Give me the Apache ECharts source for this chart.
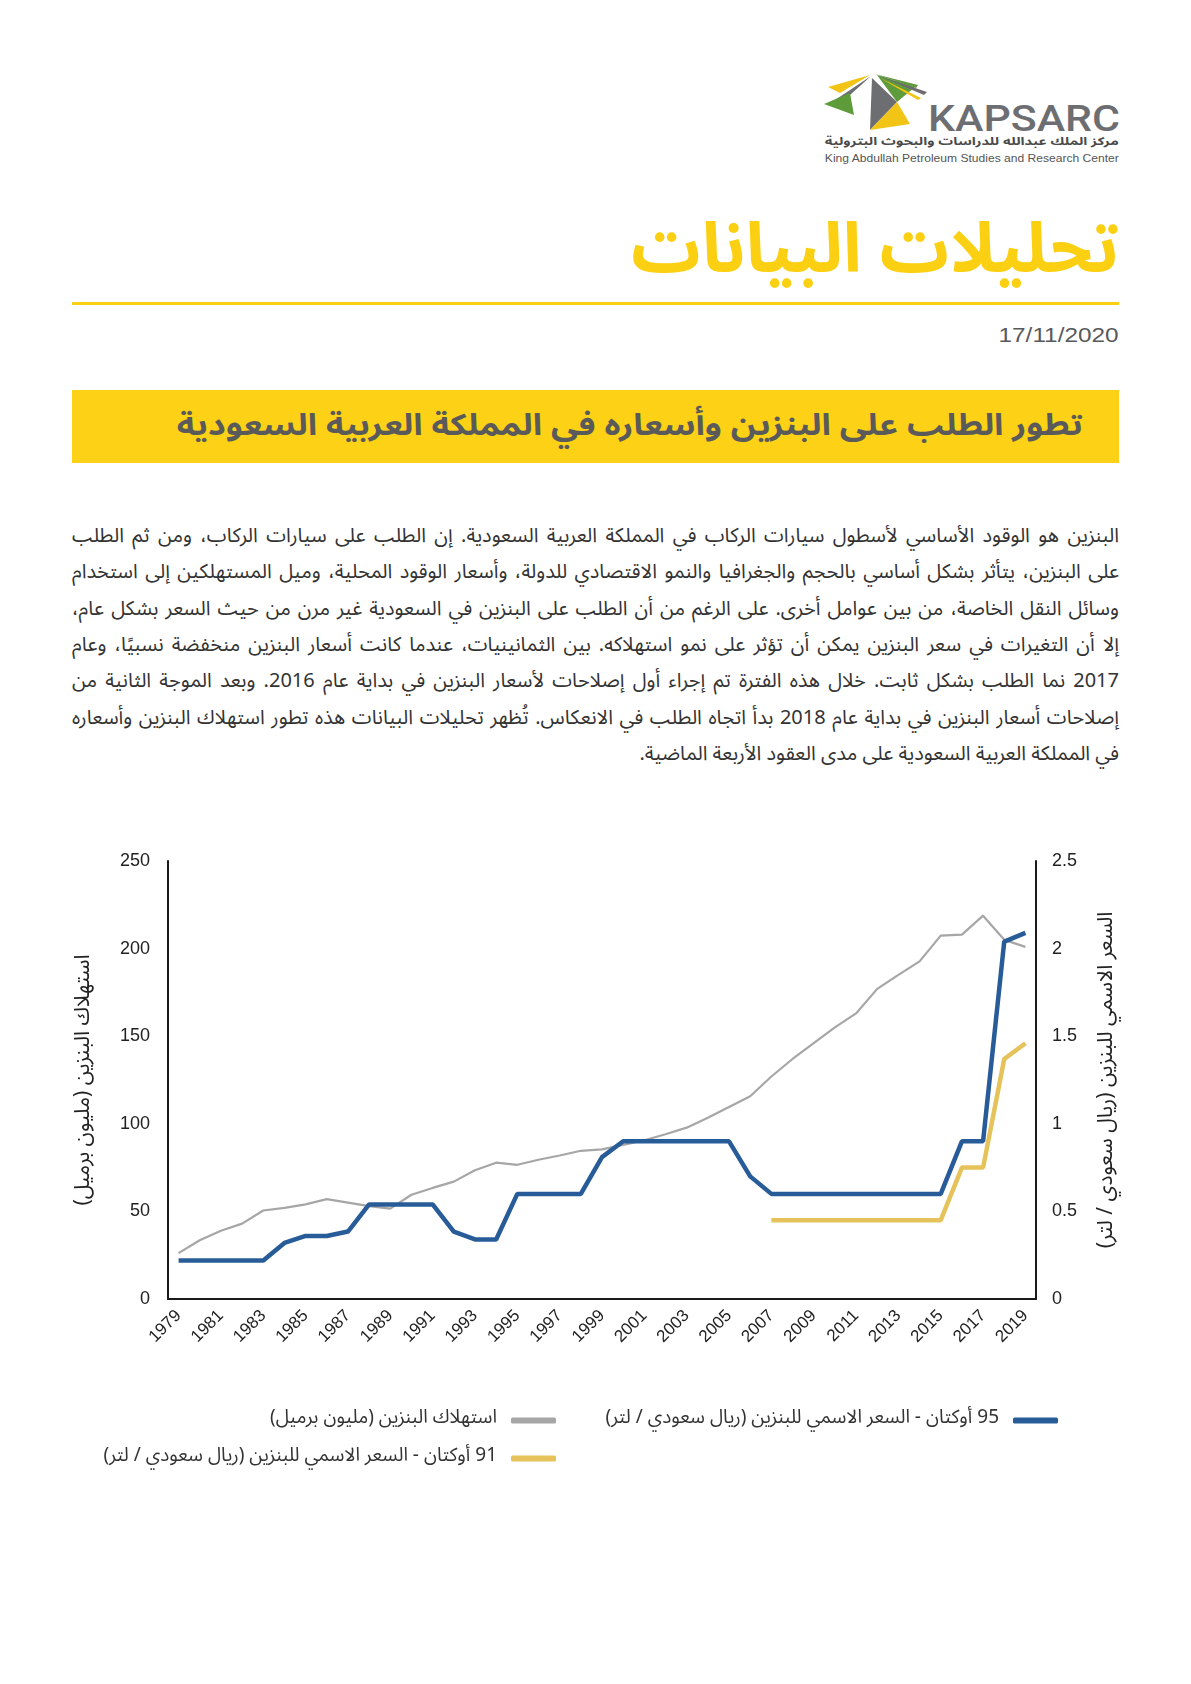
<!DOCTYPE html>
<html lang="ar" dir="rtl">
<head>
<meta charset="utf-8">
<script src="https://cdn.jsdelivr.net/npm/echarts@6/dist/echarts.min.js"></script>
<style>
html,body{margin:0;padding:0;background:#ffffff;}
body{width:1191px;height:1684px;position:relative;overflow:hidden;font-family:"Noto Sans Arabic","Noto Naskh Arabic","DejaVu Sans",sans-serif;color:#333;}
.abs{position:absolute;}
.nw{white-space:nowrap;display:inline-block;}
#title{right:72px;top:205px;font-size:74px;line-height:90px;font-weight:bold;color:#FCD012;}
#rule{left:72px;top:302px;width:1047px;height:3px;background:#FCD012;}
#date{right:72px;top:322px;font-family:"Liberation Sans",Arial,sans-serif;font-size:21px;line-height:26px;color:#58595b;direction:ltr;transform-origin:right center;}
#banner{left:72px;top:390px;width:1047px;height:73px;background:#FCD116;}
#bannerText{right:108px;top:406px;font-size:30px;line-height:40px;font-weight:bold;color:#5a5a5a;transform-origin:right center;}
.pl{position:absolute;right:72px;width:1047px;line-height:30px;color:#333;text-align:justify;text-align-last:justify;}
#logoKap{left:928px;top:100px;font-family:Roboto,"Liberation Sans",sans-serif;font-weight:500;font-size:36px;line-height:38px;color:#6D6E71;direction:ltr;transform-origin:left center;}
#logoAr{right:72px;top:135px;font-size:11px;line-height:14px;font-weight:bold;color:#4a4a4a;transform-origin:right center;}
#logoEn{right:72px;top:151px;font-family:"Liberation Sans",Arial,sans-serif;font-size:11px;line-height:14px;color:#555;direction:ltr;transform-origin:right center;}
#chart{position:absolute;left:0;top:760px;width:1191px;height:760px;}
</style>
</head>
<body>
<svg class="abs" style="left:820px;top:64px" width="110" height="72" viewBox="0 0 110 72">
  <polygon points="8,23 50,11 20,29" fill="#F2C416"/>
  <polygon points="12,38 51,12 30,31" fill="#6D6E71"/>
  <polygon points="4,40 34,51 30,29" fill="#5E9B3A"/>
  <polygon points="52,14 50,66 77,38" fill="#6D6E71"/>
  <polygon points="50,66 77,38 90,60" fill="#F2C416"/>
  <polygon points="57,11 77,38 95,23" fill="#5E9B3A"/>
  <polygon points="55,10 98,21 96,24" fill="#5E9B3A"/>
  <polygon points="57,11 107,28 104,31" fill="#6D6E71"/>
  <polygon points="60,14 101,34 98,36" fill="#F2C416"/>
</svg>
<div id="logoKap" class="abs nw">KAPSARC</div>
<div id="logoAr" class="abs nw">مركز الملك عبدالله للدراسات والبحوث البترولية</div>
<div id="logoEn" class="abs nw">King Abdullah Petroleum Studies and Research Center</div>

<div id="title" class="abs nw">تحليلات البيانات</div>
<div id="rule" class="abs"></div>
<div id="date" class="abs nw">17/11/2020</div>
<div id="banner" class="abs"></div>
<div id="bannerText" class="abs nw">تطور الطلب على البنزين وأسعاره في المملكة العربية السعودية</div>

<div id="para"></div>
<div id="chart"></div>

<script>
// ---------- chart data ----------
const years = ["1979","1980","1981","1982","1983","1984","1985","1986","1987","1988","1989","1990","1991","1992","1993","1994","1995","1996","1997","1998","1999","2000","2001","2002","2003","2004","2005","2006","2007","2008","2009","2010","2011","2012","2013","2014","2015","2016","2017","2018","2019"];
const consumption = [26.2,33.5,39,43,50.5,52,54,57,55,53,51.6,59.5,63.4,67,73.5,77.8,76.6,79.5,81.9,84.6,85.4,88,90.6,94,97.8,103.5,109.6,115.7,127,137,146,155,163,177,185,192.7,207.4,208,218.8,205,201];
const price95 = [0.22,0.22,0.22,0.22,0.22,0.32,0.36,0.36,0.385,0.54,0.54,0.54,0.54,0.385,0.34,0.34,0.6,0.6,0.6,0.6,0.81,0.9,0.9,0.9,0.9,0.9,0.9,0.7,0.6,0.6,0.6,0.6,0.6,0.6,0.6,0.6,0.6,0.9,0.9,2.04,2.09];
const price91 = [null,null,null,null,null,null,null,null,null,null,null,null,null,null,null,null,null,null,null,null,null,null,null,null,null,null,null,null,0.45,0.45,0.45,0.45,0.45,0.45,0.45,0.45,0.45,0.75,0.75,1.37,1.46];
const leftAxisRange = [0, 250, 50];
const rightAxisRange = [0, 2.5, 0.5];
const nameConsumption = "استهلاك البنزين (مليون برميل)";
const name95 = "95 أوكتان - السعر الاسمي للبنزين (ريال سعودي / لتر)";
const name91 = "91 أوكتان - السعر الاسمي للبنزين (ريال سعودي / لتر)";
const nameRightAxis = "السعر الاسمي للبنزين (ريال سعودي / لتر)";

// ---------- page text ----------
const paraLines = [
 "البنزين هو الوقود الأساسي لأسطول سيارات الركاب في المملكة العربية السعودية. إن الطلب على سيارات الركاب، ومن ثم الطلب",
 "على البنزين، يتأثر بشكل أساسي بالحجم والجغرافيا والنمو الاقتصادي للدولة، وأسعار الوقود المحلية، وميل المستهلكين إلى استخدام",
 "وسائل النقل الخاصة، من بين عوامل أخرى. على الرغم من أن الطلب على البنزين في السعودية غير مرن من حيث السعر بشكل عام،",
 "إلا أن التغيرات في سعر البنزين يمكن أن تؤثر على نمو استهلاكه. بين الثمانينيات، عندما كانت أسعار البنزين منخفضة نسبيًا، وعام",
 "2017 نما الطلب بشكل ثابت. خلال هذه الفترة تم إجراء أول إصلاحات لأسعار البنزين في بداية عام 2016. وبعد الموجة الثانية من",
 "إصلاحات أسعار البنزين في بداية عام 2018 بدأ اتجاه الطلب في الانعكاس. تُظهر تحليلات البيانات هذه تطور استهلاك البنزين وأسعاره",
 "في المملكة العربية السعودية على مدى العقود الأربعة الماضية."
];
const paraTop = 521, paraStep = 36.3;

function scaleTo(el, target){
  const w = el.getBoundingClientRect().width;
  el.style.transform = 'scaleX(' + (target / w).toFixed(4) + ')';
}
function fontTo(el, target){
  const w = el.getBoundingClientRect().width;
  const fs = parseFloat(getComputedStyle(el).fontSize);
  el.style.fontSize = (fs * target / w).toFixed(2) + 'px';
}
fontTo(document.getElementById('title'), 488);
scaleTo(document.getElementById('bannerText'), 906);
scaleTo(document.getElementById('logoKap'), 192);
scaleTo(document.getElementById('logoAr'), 294);
scaleTo(document.getElementById('logoEn'), 294);
scaleTo(document.getElementById('date'), 120);

// paragraph: a common font size so the widest line fits the 1047px column
(function(){
  const para = document.getElementById('para');
  const probe = document.createElement('span');
  probe.className = 'abs nw';
  probe.style.fontSize = '20px';
  document.body.appendChild(probe);
  let maxW = 0;
  for (let i = 0; i < 6; i++) { probe.textContent = paraLines[i]; maxW = Math.max(maxW, probe.getBoundingClientRect().width); }
  document.body.removeChild(probe);
  const fs = Math.min(20, 20 * 1040 / maxW);
  paraLines.forEach((t, i) => {
    const d = document.createElement('div');
    d.className = 'pl';
    d.style.top = (paraTop + i * paraStep).toFixed(1) + 'px';
    d.style.fontSize = fs.toFixed(2) + 'px';
    d.textContent = t;
    if (i === 6) { d.style.textAlign = 'right'; d.style.textAlignLast = 'right'; }
    para.appendChild(d);
  });
})();

// ---------- chart ----------
const arFont = '"Noto Sans Arabic","Noto Naskh Arabic","DejaVu Sans",sans-serif';
const numFont = '"Liberation Sans",Arial,sans-serif';
const chart = echarts.init(document.getElementById('chart'), null, {renderer: 'canvas'});
const legendBase = {
  orient: 'horizontal', align: 'right', itemWidth: 45, itemHeight: 6, icon: 'roundRect',
  selectedMode: false,
  textStyle: {fontFamily: arFont, fontSize: 19, color: '#333', padding: [0, 9, 0, 0]}
};
chart.setOption({
  animation: false,
  backgroundColor: 'transparent',
  grid: {left: 168, right: 155, top: 101, height: 438, containLabel: false},
  legend: [
    Object.assign({}, legendBase, {data: [name95], right: 128, top: 646}),
    Object.assign({}, legendBase, {data: [nameConsumption], right: 630, top: 646}),
    Object.assign({}, legendBase, {data: [name91], right: 630, top: 684})
  ],
  xAxis: {
    type: 'category', data: years, boundaryGap: true,
    axisLine: {show: true, lineStyle: {color: '#1a1a1a', width: 2}},
    axisTick: {show: false},
    axisLabel: {interval: 1, rotate: 45, fontFamily: numFont, fontSize: 17, color: '#222', margin: 14},
    splitLine: {show: false}
  },
  yAxis: [
    {
      type: 'value', min: leftAxisRange[0], max: leftAxisRange[1], interval: leftAxisRange[2], position: 'left',
      name: nameConsumption, nameLocation: 'middle', nameRotate: 90, nameGap: 72,
      nameTextStyle: {fontFamily: arFont, fontSize: 21, color: '#222'},
      axisLine: {show: true, lineStyle: {color: '#1a1a1a', width: 2}},
      axisTick: {show: false}, splitLine: {show: false},
      axisLabel: {fontFamily: numFont, fontSize: 18, color: '#222', margin: 18}
    },
    {
      type: 'value', min: rightAxisRange[0], max: rightAxisRange[1], interval: rightAxisRange[2], position: 'right',
      name: nameRightAxis, nameLocation: 'middle', nameRotate: 90, nameGap: 62,
      nameTextStyle: {fontFamily: arFont, fontSize: 21, color: '#222'},
      axisLine: {show: true, lineStyle: {color: '#1a1a1a', width: 2}},
      axisTick: {show: false}, splitLine: {show: false},
      axisLabel: {fontFamily: numFont, fontSize: 18, color: '#222', margin: 16}
    }
  ],
  series: [
    {name: nameConsumption, type: 'line', yAxisIndex: 0, data: consumption, symbol: 'none',
     lineStyle: {color: '#A6A6A6', width: 2.2}, itemStyle: {color: '#A6A6A6'}},
    {name: name91, type: 'line', yAxisIndex: 1, data: price91, symbol: 'none', connectNulls: false,
     lineStyle: {color: '#E6C35A', width: 4.5}, itemStyle: {color: '#E6C35A'}},
    {name: name95, type: 'line', yAxisIndex: 1, data: price95, symbol: 'none',
     lineStyle: {color: '#285C99', width: 4.5}, itemStyle: {color: '#285C99'}}
  ]
});
</script>
</body>
</html>
